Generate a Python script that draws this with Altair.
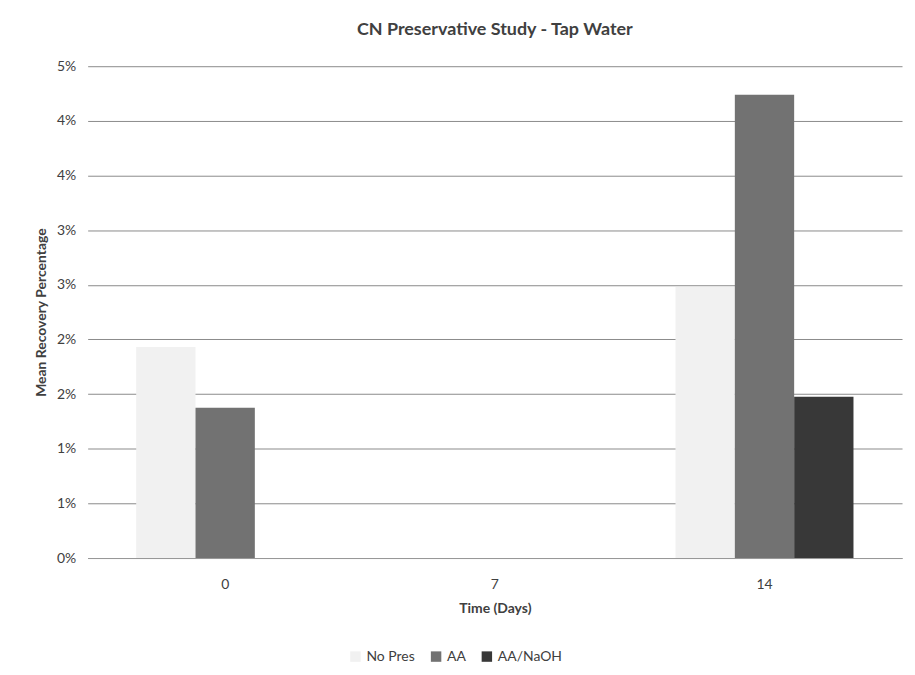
import altair as alt
import pandas as pd

days = ["0", "0", "0", "7", "7", "7", "14", "14", "14"]
series = ["No Pres", "AA", "AA/NaOH"] * 3
values = [1.93, 1.375, None, None, None, None, 2.48, 4.24, 1.475]

series_order = ["No Pres", "AA", "AA/NaOH"]
series_colors = ["#f1f1f1", "#727272", "#383838"]
y_ticks = [0, 0.5, 1.0, 1.5, 2.0, 2.5, 3.0, 3.5, 4.0, 4.5]

df = pd.DataFrame({"Day": days, "Series": series, "Value": values})

font = "Lato"

chart = alt.Chart(df).mark_bar().encode(
    x=alt.X("Day:N", sort=["0", "7", "14"],
            scale=alt.Scale(domain=["0", "7", "14"], paddingInner=0.34, paddingOuter=0.18),
            axis=alt.Axis(title="Time (Days)", labelAngle=0, ticks=False, domain=True,
                          domainColor="#999999", labelFontSize=14, labelColor="#404040",
                          titleFontSize=14, titleColor="#404040", titleFontWeight="bold",
                          labelPadding=20, titlePadding=10, labelFont=font, titleFont=font)),
    xOffset=alt.XOffset("Series:N", sort=series_order, scale=alt.Scale(domain=series_order)),
    y=alt.Y("Value:Q",
            scale=alt.Scale(domain=[0, 4.5], nice=False),
            axis=alt.Axis(title="Mean Recovery Percentage", values=y_ticks,
                          labelExpr="round(datum.value) + '%'", grid=True,
                          gridColor="#8a8a8a", gridWidth=1, domain=False, ticks=False,
                          labelFontSize=14, labelColor="#404040", titleFontSize=14,
                          titleColor="#404040", titleFontWeight="bold", labelPadding=12,
                          titlePadding=8, labelFont=font, titleFont=font)),
    color=alt.Color("Series:N", sort=series_order,
                    scale=alt.Scale(domain=series_order, range=series_colors),
                    legend=alt.Legend(title=None, orient="none", direction="horizontal",
                                      legendX=262, legendY=586,
                                      symbolType="square", symbolSize=110, labelFontSize=14,
                                      labelColor="#404040", labelFont=font, columnPadding=14)),
).properties(
    width=818,
    height=494,
    padding={"left": 26, "top": 12, "right": 5, "bottom": 5},
    title=alt.Title("CN Preservative Study - Tap Water", fontSize=18, font=font,
                    fontWeight="bold", color="#404040", offset=20),
).configure(background="white").configure_view(strokeWidth=0)

chart.save("out.html", embed_options={"renderer": "svg", "actions": False})
